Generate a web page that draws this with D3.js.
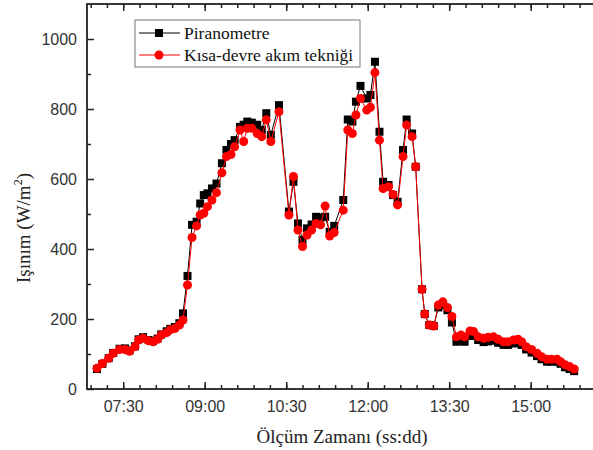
<!DOCTYPE html>
<html>
<head>
<meta charset="utf-8">
<script src="https://cdn.jsdelivr.net/npm/d3@7"></script>
<style>
  body { margin: 0; background: #fff; }
  svg { display: block; }
  .tick-label { font-family: 'Liberation Sans', Arial, sans-serif; font-size: 16px; fill: #333; }
  .title { font-family: 'Liberation Serif', 'Times New Roman', serif; font-size: 19px; fill: #222; }
  .legend-text { font-family: 'Liberation Serif', 'Times New Roman', serif; font-size: 17.5px; fill: #111; }
</style>
</head>
<body>
<svg id="chart"></svg>
<script>
// measurement times (ss:dd)
const times = [
  '07:01', '07:07', '07:14', '07:19', '07:26', '07:32', '07:37', '07:43', '07:47', '07:52',
  '07:58', '08:03', '08:08', '08:12', '08:18', '08:22', '08:27', '08:32', '08:36', '08:41',
  '08:46', '08:51', '08:55', '08:59', '09:03', '09:08', '09:13', '09:19', '09:24', '09:29',
  '09:33', '09:39', '09:43', '09:47', '09:52', '09:58', '10:03', '10:08', '10:13', '10:22',
  '10:33', '10:38', '10:43', '10:48', '10:53', '10:58', '11:03', '11:08', '11:13', '11:18',
  '11:23', '11:33', '11:38', '11:43', '11:47', '11:52', '11:59', '12:03', '12:08', '12:13',
  '12:17', '12:23', '12:28', '12:33', '12:39', '12:43', '12:49', '12:53', '13:00', '13:03',
  '13:08', '13:13', '13:18', '13:23', '13:28', '13:33', '13:38', '13:43', '13:47', '13:53',
  '13:57', '14:02', '14:08', '14:13', '14:19', '14:24', '14:30', '14:35', '14:41', '14:46',
  '14:50', '14:55', '15:01', '15:07', '15:12', '15:18', '15:23', '15:29', '15:33', '15:38',
  '15:43', '15:48'
]

// Piranometre (W/m2)
const piranometre = [
  57, 72, 88, 103, 115, 116, 110, 122, 142, 148,
  140, 137, 144, 156, 165, 172, 177, 188, 216, 323,
  469, 478, 530, 554, 559, 573, 587, 645, 683, 700,
  711, 749, 755, 764, 761, 755, 740, 788, 726, 811,
  507, 592, 473, 426, 459, 470, 492, 490, 492, 449,
  466, 540, 770, 764, 821, 866, 830, 840, 935, 735,
  592, 583, 554, 535, 683, 770, 730, 635, 285, 214,
  183, 180, 233, 240, 225, 190, 135, 138, 135, 152,
  152, 140, 134, 136, 138, 132, 126, 126, 130, 132,
  126, 113, 104, 94, 85, 78, 78, 78, 72, 62,
  57, 51
]

// Kisa-devre akim teknigi (W/m2)
const kisaDevre = [
  59, 73, 88, 102, 113, 113, 108, 121, 140, 145,
  138, 135, 142, 154, 161, 169, 173, 183, 197, 297,
  433, 466, 497, 502, 521, 540, 561, 618, 664, 670,
  692, 740, 707, 745, 745, 730, 721, 769, 707, 792,
  497, 607, 454, 407, 440, 454, 473, 469, 523, 437,
  447, 511, 740, 730, 783, 830, 797, 805, 904, 711,
  573, 578, 556, 526, 664, 754, 721, 635, 285, 214,
  183, 180, 240, 249, 233, 207, 149, 154, 149, 166,
  164, 149, 145, 148, 149, 142, 135, 135, 140, 142,
  135, 121, 113, 102, 92, 85, 85, 85, 78, 69,
  64, 57
]

const xTickLabels = ['07:30', '09:00', '10:30', '12:00', '13:30', '15:00']
const yTickValues = [0, 200, 400, 600, 800, 1000]

const config = {
  width: 593,
  height: 450,
  left: 87,
  top: 4,
  bottom: 389,
  pxPerMinute: 0.9055
}

const parseTime = d3.timeParse('%H:%M')
const data = times.map((t, i) => ({
  time: parseTime(t),
  piranometre: piranometre[i],
  kisaDevre: kisaDevre[i]
}))

const svg = d3.select('#chart')
  .attr('width', config.width)
  .attr('height', config.height)

// x scale runs past the right edge of the picture (frame is cut off there)
const xStart = parseTime('06:50')
const xEnd = parseTime('16:50')
const xScale = d3.scaleTime()
  .domain([xStart, xEnd])
  .range([config.left, config.left + 600 * config.pxPerMinute])

const yScale = d3.scaleLinear()
  .domain([0, 1100])
  .range([config.bottom, config.top])

const majorX = xTickLabels.map(parseTime).concat([parseTime('16:30')])
const minorX = d3.range(-2, 35).map(k => new Date(parseTime('07:30').getTime() + k * 18 * 60000))
  .filter(d => d > xStart && d < xEnd)
const minorY = d3.range(100, 1100, 200)
const labelSet = new Set(xTickLabels)
const fmt = d3.timeFormat('%H:%M')

// bottom axis, ticks pointing inward
const xAxisG = svg.append('g')
  .attr('transform', `translate(0, ${config.bottom})`)
xAxisG.call(d3.axisBottom(xScale).tickValues(minorX).tickSize(-4).tickFormat(''))
xAxisG.append('g')
  .call(d3.axisBottom(xScale).tickValues(majorX).tickSize(-7).tickPadding(12)
    .tickFormat(d => labelSet.has(fmt(d)) ? fmt(d) : ''))

// top axis mirror ticks
const xTopG = svg.append('g')
  .attr('transform', `translate(0, ${config.top})`)
xTopG.call(d3.axisTop(xScale).tickValues(minorX).tickSize(-4).tickFormat(''))
xTopG.append('g').call(d3.axisTop(xScale).tickValues(majorX).tickSize(-7).tickFormat(''))

// left axis
const yAxisG = svg.append('g')
  .attr('transform', `translate(${config.left}, 0)`)
yAxisG.call(d3.axisLeft(yScale).tickValues(minorY).tickSize(-4).tickFormat(''))
yAxisG.append('g')
  .call(d3.axisLeft(yScale).tickValues(yTickValues).tickSize(-7).tickPadding(10)
    .tickFormat(d3.format('d')))

svg.selectAll('.domain').remove()
svg.selectAll('.tick line').attr('stroke', '#222').attr('stroke-width', 1.5)
svg.selectAll('.tick text').attr('class', 'tick-label').attr('font-size', null).attr('font-family', null).attr('fill', null)

// frame
svg.append('rect')
  .attr('x', config.left)
  .attr('y', config.top)
  .attr('width', xScale.range()[1] - config.left)
  .attr('height', config.bottom - config.top)
  .attr('fill', 'none')
  .attr('stroke', '#222')
  .attr('stroke-width', 1.8)

// series: black squares first, red circles on top
const lineP = d3.line().x(d => xScale(d.time)).y(d => yScale(d.piranometre))
const lineK = d3.line().x(d => xScale(d.time)).y(d => yScale(d.kisaDevre))

svg.append('path')
  .datum(data)
  .attr('d', lineP)
  .attr('fill', 'none')
  .attr('stroke', '#000')
  .attr('stroke-width', 1)

svg.selectAll('.sq')
  .data(data)
  .join('rect')
  .attr('class', 'sq')
  .attr('x', d => xScale(d.time) - 4)
  .attr('y', d => yScale(d.piranometre) - 4)
  .attr('width', 8)
  .attr('height', 8)
  .attr('fill', '#000')

svg.append('path')
  .datum(data)
  .attr('d', lineK)
  .attr('fill', 'none')
  .attr('stroke', '#f00')
  .attr('stroke-width', 1)

svg.selectAll('.dot')
  .data(data)
  .join('circle')
  .attr('class', 'dot')
  .attr('cx', d => xScale(d.time))
  .attr('cy', d => yScale(d.kisaDevre))
  .attr('r', 4.5)
  .attr('fill', '#f00')

// legend
const legend = svg.append('g')
legend.append('rect')
  .attr('x', 135).attr('y', 20)
  .attr('width', 225).attr('height', 47)
  .attr('fill', '#fff')
  .attr('stroke', '#777')
  .attr('stroke-width', 1)

const legendItems = [
  {name: 'Piranometre', color: '#000', shape: 'square'},
  {name: 'Kısa-devre akım tekniği', color: '#f00', shape: 'circle'}
]
legendItems.forEach((item, i) => {
  const y = 33 + i * 22
  legend.append('line')
    .attr('x1', 139).attr('x2', 180)
    .attr('y1', y).attr('y2', y)
    .attr('stroke', item.color)
    .attr('stroke-width', 1)
  if (item.shape === 'square') {
    legend.append('rect')
      .attr('x', 155).attr('y', y - 4)
      .attr('width', 8).attr('height', 8)
      .attr('fill', item.color)
  } else {
    legend.append('circle')
      .attr('cx', 159).attr('cy', y)
      .attr('r', 4.5)
      .attr('fill', item.color)
  }
  legend.append('text')
    .attr('class', 'legend-text')
    .attr('x', 184).attr('y', y + 6)
    .text(item.name)
})

// axis titles
svg.append('text')
  .attr('class', 'title')
  .attr('x', 342)
  .attr('y', 443)
  .attr('text-anchor', 'middle')
  .text('Ölçüm Zamanı (ss:dd)')

const yTitle = svg.append('text')
  .attr('class', 'title')
  .attr('font-size', 20)
  .attr('transform', 'translate(30, 228) rotate(-90)')
  .attr('text-anchor', 'middle')
yTitle.append('tspan').text('Işınım (W/m')
yTitle.append('tspan').attr('font-size', 12).attr('dy', -8).text('2')
yTitle.append('tspan').attr('dy', 8).text(')')
</script>
</body>
</html>
